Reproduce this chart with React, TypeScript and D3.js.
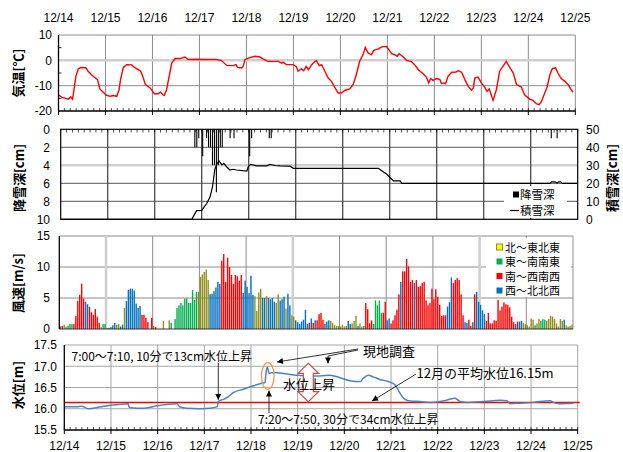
import * as d3 from "d3";

const dayLabels = ["12/14", "12/15", "12/16", "12/17", "12/18", "12/19", "12/20", "12/21", "12/22", "12/23", "12/24", "12/25"];

// 気温: time in days from 12/14 0:00, value in °C
const tempDay = [0.0, 0.07, 0.14, 0.21, 0.26, 0.3, 0.33, 0.37, 0.42, 0.47, 0.58, 0.63, 0.7, 0.76, 0.83, 0.88, 0.97, 1.02, 1.1, 1.17, 1.24, 1.29, 1.32, 1.38, 1.45, 1.56, 1.63, 1.7, 1.75, 1.8, 1.85, 1.95, 2.04, 2.12, 2.17, 2.22, 2.25, 2.3, 2.37, 2.41, 2.48, 2.59, 2.69, 2.76, 2.94, 3.15, 3.36, 3.47, 3.58, 3.72, 3.78, 3.81, 3.9, 3.93, 3.97, 4.04, 4.18, 4.29, 4.36, 4.46, 4.68, 4.75, 4.78, 4.85, 4.99, 5.06, 5.1, 5.17, 5.22, 5.27, 5.32, 5.39, 5.46, 5.49, 5.55, 5.6, 5.67, 5.74, 5.81, 5.88, 5.95, 6.02, 6.1, 6.2, 6.27, 6.33, 6.41, 6.49, 6.53, 6.59, 6.66, 6.71, 6.81, 6.88, 6.98, 7.02, 7.09, 7.16, 7.21, 7.25, 7.34, 7.41, 7.51, 7.58, 7.66, 7.76, 7.83, 7.88, 7.92, 7.97, 8.05, 8.12, 8.15, 8.2, 8.24, 8.29, 8.37, 8.46, 8.51, 8.58, 8.65, 8.72, 8.79, 8.83, 8.86, 8.93, 9.0, 9.07, 9.12, 9.17, 9.22, 9.25, 9.32, 9.39, 9.46, 9.53, 9.61, 9.68, 9.75, 9.85, 9.92, 10.03, 10.1, 10.17, 10.23, 10.28, 10.35, 10.4, 10.46, 10.51, 10.58, 10.63, 10.7, 10.78, 10.85, 10.9, 10.95];
const tempC = [-13.6, -14.6, -14.9, -15.3, -14.5, -15.3, -11.6, -6.3, -3.4, -2.8, -2.9, -4.3, -5.7, -6.6, -7.6, -11.3, -12.9, -13.8, -14.2, -13.9, -14.2, -11.6, -7.6, -2.8, -1.7, -1.8, -3.0, -3.7, -4.3, -6.7, -9.6, -10.9, -13.2, -13.2, -12.6, -13.6, -13.9, -11.6, -5.0, -1.1, 0.7, 0.7, 1.3, 0.3, 0.4, 0.3, 0.3, -0.1, -2.0, -2.1, -1.7, -2.8, -3.0, -2.4, 0.3, 0.9, 1.6, 1.3, 0.5, -0.4, -0.4, -1.1, -0.7, -1.7, -1.7, -2.4, -4.3, -3.4, -4.1, -2.4, -3.7, -1.7, -0.4, -0.1, -2.1, -1.7, -4.3, -7.0, -8.3, -10.7, -12.9, -12.9, -11.8, -11.3, -9.6, -6.3, -0.4, 2.6, 5.1, 2.9, 2.2, 3.9, 4.5, 5.3, 5.5, 4.5, 2.6, 2.2, 1.6, 2.6, 1.3, 0.0, -0.5, -1.7, -3.7, -5.3, -6.6, -8.9, -7.2, -7.9, -7.2, -7.6, -9.2, -8.9, -9.2, -6.3, -4.7, -4.6, -4.1, -4.7, -7.6, -10.3, -11.8, -10.9, -7.0, -6.6, -8.9, -10.5, -12.2, -11.3, -14.2, -15.8, -11.6, -4.3, -2.4, -0.4, -3.0, -5.0, -9.6, -10.5, -13.6, -15.3, -15.8, -17.1, -17.5, -16.2, -12.9, -10.5, -5.7, -3.3, -3.0, -5.0, -7.2, -8.3, -9.6, -11.3, -12.6];

// 積雪深 [cm]
const depthDay = [0, 2.79, 2.89, 3.0, 3.11, 3.18, 3.23, 3.28, 3.33, 3.37, 3.43, 3.47, 3.53, 3.6, 3.67, 3.74, 3.96, 3.99, 4.04, 4.17, 4.38, 4.45, 4.56, 4.67, 4.88, 4.95, 6.76, 6.83, 6.94, 7.01, 7.08, 7.22, 7.26, 10.41, 10.45, 10.52, 10.56, 10.59, 10.64, 10.67, 11];
const depthCm = [0, 0, 4.8, 5.0, 8.9, 12.6, 18.1, 27.8, 31.1, 32.4, 30.2, 31.1, 29.2, 27.4, 27.8, 27.4, 26.8, 29.2, 30.5, 29.7, 29.7, 30.5, 29.9, 29.7, 29.5, 28.3, 28.3, 27.0, 25.0, 23.1, 21.3, 21.3, 20.0, 20.0, 20.8, 20.8, 20.0, 20.8, 20.8, 20.0, 20.0];

// 降雪深 [cm]: hour index from 12/14 0:00
const snowHour = [68, 69, 70, 72, 74, 75, 76, 77, 78, 79, 80, 81, 82, 86, 88, 96, 97, 106, 107, 250, 253];
const snowCm = [2, 2, 1, 3, 1, 2, 2, 4, 4, 7, 4, 2, 2, 1, 1, 3, 1, 1, 1, 1, 1];

// 風速 [m/s], hourly from 12/14 0:00
const windSpeed = [
  0.4, 0.5, 0.7, 0.4, 0.5, 0.8, 0.8, 0.8, 2.1, 4.5, 5.5, 7.3, 4.9, 4.4, 4.0, 3.6, 2.7, 2.3, 3.2, 2.0, 1.0, 0.3, 0.8, 0.8, // 12/14
  0.1, 0.2, 0.3, 0.6, 1.0, 0.7, 0.8, 0.4, 0.7, 3.4, 4.5, 6.3, 6.5, 6.5, 6.2, 4.1, 3.4, 3.7, 2.3, 2.3, 1.8, 1.1, 0, 1.8, // 12/15
  0.5, 0.3, 0, 0, 0, 1.3, 0, 0, 1.4, 1.0, 0, 1.6, 3.4, 3.8, 4.2, 3.8, 4.9, 4.9, 4.2, 4.2, 6.3, 4.7, 6.0, 6.0, // 12/16
  8.4, 8.8, 9.2, 9.6, 7.9, 5.6, 5.7, 6.1, 6.7, 7.6, 7.3, 11.0, 12.1, 7.6, 11.5, 10.0, 8.7, 7.3, 8.7, 8.5, 7.8, 8.7, 5.8, 7.8, // 12/17
  6.8, 5.8, 8.6, 5.5, 5.3, 2.9, 5.9, 6.5, 5.0, 5.0, 5.3, 5.0, 4.8, 5.0, 4.4, 4.2, 5.6, 4.6, 4.8, 5.2, 3.3, 5.7, 3.8, 2.2, // 12/18
  2.0, 1.4, 1.1, 0.8, 1.2, 1.5, 3.1, 0.8, 1.0, 1.7, 1.0, 1.4, 1.4, 2.4, 2.6, 1.5, 0.8, 1.2, 1.4, 1.3, 1.0, 0.6, 0.5, 0.5, // 12/19
  0.4, 0.7, 0.4, 0.5, 1.3, 0.8, 0.9, 1.3, 2.1, 0.5, 0.9, 0.4, 0.5, 4.2, 3.2, 0.9, 1.4, 0.8, 4.6, 3.8, 4.6, 2.6, 2.6, 4.4, // 12/20
  1.4, 1.7, 0.9, 1.4, 2.2, 3.1, 5.6, 7.6, 9.3, 9.3, 11.3, 10.1, 7.6, 7.9, 7.4, 7.9, 6.8, 6.9, 7.4, 7.6, 4.6, 3.8, 4.2, 6.5, // 12/21
  4.8, 6.4, 5.2, 3.9, 2.1, 2.2, 2.2, 3.6, 4.3, 8.3, 7.4, 7.9, 8.2, 7.9, 5.6, 2.2, 1.1, 1.0, 1.5, 0.5, 1.1, 5.6, 6.0, 4.4, // 12/22
  3.9, 3.0, 2.4, 1.3, 2.6, 0.9, 0.9, 1.4, 1.3, 4.7, 3.0, 3.6, 4.3, 4.0, 3.9, 3.5, 2.0, 1.1, 0.8, 1.2, 1.2, 1.3, 1.0, 0.8, // 12/23
  0.6, 0.4, 1.7, 1.5, 0.6, 0.9, 1.6, 1.3, 1.6, 1.5, 1.3, 1.6, 2.1, 2.0, 1.6, 0.9, 0.4, 1.6, 1.3, 1.5, 0.6, 0.4, 0.5, 0.7, // 12/24
];
// 風向 group per hour: N=北～東北東, E=東～南南東, S=南～西南西, W=西～北北西
const windDir = [
  "WSNNEEESSSSSSWWSSSSSSNEE",
  "WWWWWNNWWNWWWWWWWWSSSSSS",
  "NSNNNNNNNEEEEEEEEEEEEEEN",
  "NNNNNWWWWWWSSSSSSSSSSSWW",
  "WWWWNNNNWWNWWWWNNWWWNWWN",
  "NWWWWWWWSWSWSSSSWWWNNNNN",
  "NNNNWWNNNWNNESSSSEEEEESS",
  "WWSSSSSWSSSSSSWSSSSSSSSS",
  "SSSSSSSWWWSSSSSSWWSSWSWW",
  "WWWSSSSSSSSSSSSSSSWSWWNN",
  "NNNNENNEEENNNNNNNNNWNNNN",
].join("");
const windKeys = ["N", "E", "S", "W"];
const windNames = ["北～東北東", "東～南南東", "南～西南西", "西～北北西"];
const windFill = ["#8f8f1f", "#00b050", "#ff0000", "#0070c0"];

// 水位 [m]
const levelDay = [0.0, 0.27, 0.37, 0.51, 0.76, 0.98, 1.37, 1.39, 1.69, 1.98, 2.41, 2.48, 2.62, 2.91, 3.12, 3.28, 3.3, 3.41, 3.51, 3.62, 3.84, 4.05, 4.23, 4.3, 4.32, 4.35, 4.39, 4.44, 4.55, 4.77, 4.98, 5.48, 5.69, 5.91, 6.12, 6.34, 6.41, 6.51, 6.62, 6.76, 6.94, 7.09, 7.19, 7.3, 7.41, 7.62, 7.83, 8.05, 8.19, 8.37, 8.48, 8.62, 8.98, 9.34, 9.48, 9.55, 9.76, 10.05, 10.41, 10.48, 10.59, 10.91];
const levelM = [16.05, 16.05, 16.06, 16.0, 16.04, 16.08, 16.12, 16.03, 16.01, 16.07, 16.12, 16.04, 16.01, 16.0, 16.01, 16.05, 16.17, 16.22, 16.28, 16.38, 16.46, 16.54, 16.6, 16.62, 16.83, 16.98, 16.83, 16.85, 16.85, 16.82, 16.79, 16.77, 16.79, 16.73, 16.66, 16.64, 16.72, 16.79, 16.75, 16.69, 16.64, 16.56, 16.37, 16.22, 16.18, 16.17, 16.15, 16.17, 16.2, 16.25, 16.17, 16.15, 16.17, 16.2, 16.19, 16.12, 16.13, 16.15, 16.19, 16.15, 16.12, 16.13];
const levelMean = 16.15;

const NUM = "'Liberation Sans', Arial, sans-serif";
const JP = "'Noto Sans CJK JP', sans-serif";
const days = d3.range(0, 12);
const minor = d3.range(0, 11 * 8 + 1).map((i) => i / 8);

export default function App() {
  // panel 1: temperature
  const x1 = d3.scaleLinear().domain([0, 11]).range([58.5, 575.3]);
  const y1 = d3.scaleLinear().domain([-20, 10]).range([111, 35]);
  // panel 2: snow
  const x2 = d3.scaleLinear().domain([0, 11]).range([60.7, 577.7]);
  const y2L = d3.scaleLinear().domain([0, 10]).range([129.3, 219.3]);
  const y2R = d3.scaleLinear().domain([0, 50]).range([219.3, 129.3]);
  // panel 3: wind
  const x3 = d3.scaleLinear().domain([0, 11]).range([59.3, 573]);
  const y3 = d3.scaleLinear().domain([0, 15]).range([329, 236]);
  // panel 4: water level
  const x4 = d3.scaleLinear().domain([0, 11]).range([64.3, 577.7]);
  const y4 = d3.scaleLinear().domain([15.5, 17.5]).range([430, 345]);

  const tempLine = d3.line<number>().x((d, i) => x1(tempDay[i])).y((d) => y1(d))(tempC) || "";
  const depthLine = d3.line<number>().x((d, i) => x2(depthDay[i])).y((d) => y2R(d))(depthCm) || "";
  const levelLine = d3.line<number>().x((d, i) => x4(levelDay[i])).y((d) => y4(d)).curve(d3.curveMonotoneX)(levelM) || "";

  const grid = "#8c8c8c";
  const light = "#cfcfcf";

  return (
    <svg width={623} height={452} style={{ position: "absolute", left: 0, top: 0, background: "#fff" }}>
      <defs>
        <marker id="ah" viewBox="0 0 10 10" refX="10" refY="5" markerWidth="7" markerHeight="6" markerUnits="userSpaceOnUse" orient="auto">
          <path d="M0,0 L10,5 L0,10 z" fill="#000" />
        </marker>
      </defs>

      {/* top date labels */}
      {days.map((d) => (
        <text key={"tl" + d} x={x1(d)} y={22} fontFamily={NUM} fontSize={12} textAnchor="middle">{dayLabels[d]}</text>
      ))}

      {/* ===== panel 1: 気温 ===== */}
      <g>
        {days.slice(1).map((d) => (
          <line key={"g1v" + d} x1={x1(d)} x2={x1(d)} y1={35} y2={111} stroke={grid} strokeWidth={1} />
        ))}
        <line x1={x1(0)} x2={x1(11)} y1={y1(0)} y2={y1(0)} stroke={light} strokeWidth={2.5} />
        <line x1={x1(0)} x2={x1(11)} y1={y1(-10)} y2={y1(-10)} stroke={grid} />
        <line x1={x1(0)} x2={x1(11)} y1={35} y2={35} stroke={grid} />
        {[-15, -5, 5].map((v) => (
          <line key={"m1" + v} x1={x1(0)} x2={x1(0) + 3} y1={y1(v)} y2={y1(v)} stroke="#000" strokeWidth={0.8} />
        ))}
        {minor.map((m) => (
          <line key={"t1" + m} x1={x1(m)} x2={x1(m)} y1={111} y2={108} stroke="#000" strokeWidth={0.7} />
        ))}
        {days.map((d) => (
          <line key={"t1d" + d} x1={x1(d)} x2={x1(d)} y1={111} y2={115} stroke="#000" strokeWidth={1} />
        ))}
        <path d={tempLine} fill="none" stroke="#ff0000" strokeWidth={1.4} />
        <line x1={x1(0)} x2={x1(0)} y1={35} y2={111} stroke="#000" strokeWidth={1.3} />
        <line x1={x1(0)} x2={x1(11)} y1={111} y2={111} stroke="#000" strokeWidth={1.3} />
        {[10, 0, -10, -20].map((v) => (
          <text key={"l1" + v} x={52} y={y1(v) + 4.3} fontFamily={NUM} fontSize={12} textAnchor="end">{v}</text>
        ))}
        <text transform={`translate(23,${73}) rotate(-90)`} fontFamily={JP} fontSize={13} fontWeight="bold" textAnchor="middle">気温[℃]</text>
      </g>

      {/* ===== panel 2: 降雪深 / 積雪深 ===== */}
      <g>
        {[2, 6, 8].map((v) => (
          <line key={"g2h" + v} x1={x2(0)} x2={x2(11)} y1={y2L(v)} y2={y2L(v)} stroke="#555" strokeWidth={1} />
        ))}
        <line x1={x2(0)} x2={x2(11)} y1={y2L(4)} y2={y2L(4)} stroke={light} strokeWidth={2.5} />
        {days.slice(1, 11).map((d) => (
          <line key={"g2v" + d} x1={x2(d)} x2={x2(d)} y1={129.3} y2={219.3} stroke="#4a4a4a" strokeWidth={1.3} />
        ))}
        {minor.map((m) => (
          <line key={"t2" + m} x1={x2(m)} x2={x2(m)} y1={129.3} y2={132.5} stroke="#000" strokeWidth={0.7} />
        ))}
        {snowHour.map((h, i) => (
          <line key={"sb" + i} x1={x2((h + 0.5) / 24)} x2={x2((h + 0.5) / 24)} y1={y2L(0)} y2={y2L(snowCm[i])} stroke="#000" strokeWidth={1.1} />
        ))}
        <path d={depthLine} fill="none" stroke="#000" strokeWidth={1.2} />
        <rect x={x2(0)} y={129.3} width={x2(11) - x2(0)} height={90} fill="none" stroke="#000" strokeWidth={1.2} />
        {/* legend */}
        <rect x={504} y={186} width={63} height={32} fill="#fff" />
        <rect x={513} y={191.5} width={6} height={6} fill="#000" />
        <text x={520} y={198.5} fontFamily={JP} fontSize={11.5}>降雪深</text>
        <line x1={510} x2={519} y1={210.5} y2={210.5} stroke="#000" strokeWidth={1.2} />
        <text x={520} y={215} fontFamily={JP} fontSize={11.5}>積雪深</text>
        {[0, 2, 4, 6, 8, 10].map((v) => (
          <text key={"l2" + v} x={50} y={y2L(v) + 4.3} fontFamily={NUM} fontSize={12} textAnchor="end">{v}</text>
        ))}
        {[0, 10, 20, 30, 40, 50].map((v) => (
          <text key={"r2" + v} x={586} y={y2R(v) + 4.3} fontFamily={NUM} fontSize={12}>{v}</text>
        ))}
        <text transform={`translate(24,178) rotate(-90)`} fontFamily={JP} fontSize={13} fontWeight="bold" textAnchor="middle">降雪深[cm]</text>
        <text transform={`translate(617,178) rotate(-90)`} fontFamily={JP} fontSize={13} fontWeight="bold" textAnchor="middle">積雪深[cm]</text>
      </g>

      {/* ===== panel 3: 風速 ===== */}
      <g>
        {[5, 10, 15].map((v) => (
          <line key={"g3h" + v} x1={x3(0)} x2={x3(11)} y1={y3(v)} y2={y3(v)} stroke={grid} />
        ))}
        {days.slice(1).map((d) => (
          <line key={"g3v" + d} x1={x3(d)} x2={x3(d)} y1={236} y2={329}
            stroke={d === 1 || d === 5 || d === 9 ? light : grid} strokeWidth={d === 1 || d === 5 || d === 9 ? 2.5 : 1} />
        ))}
        {windSpeed.map((s, i) =>
          s > 0 ? (
            <rect key={"wb" + i} x={x3((i + 0.5) / 24) - 0.7} y={y3(s)} width={1.4} height={y3(0) - y3(s)}
              fill={windFill[windKeys.indexOf(windDir[i])]} />
          ) : null
        )}
        <line x1={x3(0)} x2={x3(0)} y1={236} y2={329} stroke="#000" strokeWidth={1.3} />
        <line x1={x3(0)} x2={x3(11)} y1={329} y2={329} stroke="#333" strokeWidth={1} />
        {/* legend */}
        <rect x={486} y={238} width={85} height={59} fill="#fff" />
        {windNames.map((n, i) => (
          <g key={"wl" + i}>
            <rect x={496.5} y={244 + i * 14.5} width={6} height={6}
              fill={i === 0 ? "#ffff00" : windFill[i]} stroke={i === 0 ? "#8f8f1f" : "none"} strokeWidth={1} />
            <text x={505} y={251.5 + i * 14.5} fontFamily={JP} fontSize={11}>{n}</text>
          </g>
        ))}
        {[0, 5, 10, 15].map((v) => (
          <text key={"l3" + v} x={50} y={y3(v) + 4.3} fontFamily={NUM} fontSize={12} textAnchor="end">{v}</text>
        ))}
        <text transform={`translate(23,283) rotate(-90)`} fontFamily={JP} fontSize={13} fontWeight="bold" textAnchor="middle">風速[m/s]</text>
      </g>

      {/* ===== panel 4: 水位 ===== */}
      <g>
        {[16.0, 16.5, 17.0, 17.5].map((v) => (
          <line key={"g4h" + v} x1={x4(0)} x2={x4(11)} y1={y4(v)} y2={y4(v)} stroke="#a6a6a6" strokeWidth={1} />
        ))}
        {days.slice(1).map((d) => (
          <line key={"g4v" + d} x1={x4(d)} x2={x4(d)} y1={345} y2={430} stroke="#a6a6a6" />
        ))}
        {minor.map((m) => (
          <line key={"t4" + m} x1={x4(m)} x2={x4(m)} y1={430} y2={427} stroke="#000" strokeWidth={0.7} />
        ))}
        {days.map((d) => (
          <line key={"t4d" + d} x1={x4(d)} x2={x4(d)} y1={430} y2={434} stroke="#000" />
        ))}
        <line x1={x4(0)} x2={x4(11) + 2} y1={y4(levelMean)} y2={y4(levelMean)} stroke="#ff0000" strokeWidth={1.5} />
        <path d={levelLine} fill="none" stroke="#4f81bd" strokeWidth={1.5} />
        <line x1={x4(0)} x2={x4(0)} y1={345} y2={430} stroke="#000" strokeWidth={1.3} />
        <line x1={x4(0)} x2={x4(11)} y1={430} y2={430} stroke="#000" strokeWidth={1.3} />
        {[15.5, 16.0, 16.5, 17.0, 17.5].map((v) => (
          <text key={"l4" + v} x={57} y={y4(v) + 4.3} fontFamily={NUM} fontSize={12} textAnchor="end">{v.toFixed(1)}</text>
        ))}
        <text transform={`translate(23,385) rotate(-90)`} fontFamily={JP} fontSize={13} fontWeight="bold" textAnchor="middle">水位[m]</text>
        {days.map((d) => (
          <text key={"bl" + d} x={x4(d)} y={450} fontFamily={NUM} fontSize={12} textAnchor="middle">{dayLabels[d]}</text>
        ))}

        {/* annotations */}
        <text x={71.5} y={361} fontFamily={JP} fontSize={12}>7:00～7:10, 10分で13cm水位上昇</text>
        <line x1={218.3} x2={218.3} y1={363} y2={400} stroke="#000" strokeWidth={0.8} markerEnd="url(#ah)" />
        <ellipse cx={267.8} cy={376} rx={6.3} ry={13.3} fill="none" stroke="#f79646" strokeWidth={1.3} />
        <line x1={269} x2={269} y1={413} y2={390.5} stroke="#000" strokeWidth={0.8} markerEnd="url(#ah)" />
        <text x={258} y={424} fontFamily={JP} fontSize={12}>7:20～7:50, 30分で34cm水位上昇</text>
        <path d="M308.3,363.3 L318.6,373.3 L313.3,373.3 L313.3,391.7 L318.6,391.7 L308.3,401.7 L298,391.7 L303.3,391.7 L303.3,373.3 L298,373.3 Z"
          fill="#fff" stroke="#c0504d" strokeWidth={1.2} />
        <text x={283} y={389} fontFamily={JP} fontSize={13}>水位上昇</text>
        <text x={363} y={356} fontFamily={JP} fontSize={13}>現地調査</text>
        <line x1={358} x2={277} y1={349} y2={362} stroke="#000" strokeWidth={0.8} markerEnd="url(#ah)" />
        <polyline points="358,350 328,356 328,363.5" fill="none" stroke="#000" strokeWidth={0.8} markerEnd="url(#ah)" />
        <text x={416.5} y={378} fontFamily={JP} fontSize={13}>12月の平均水位16.15m</text>
        <line x1={416} x2={372} y1={374} y2={401} stroke="#000" strokeWidth={0.8} markerEnd="url(#ah)" />
      </g>
    </svg>
  );
}
